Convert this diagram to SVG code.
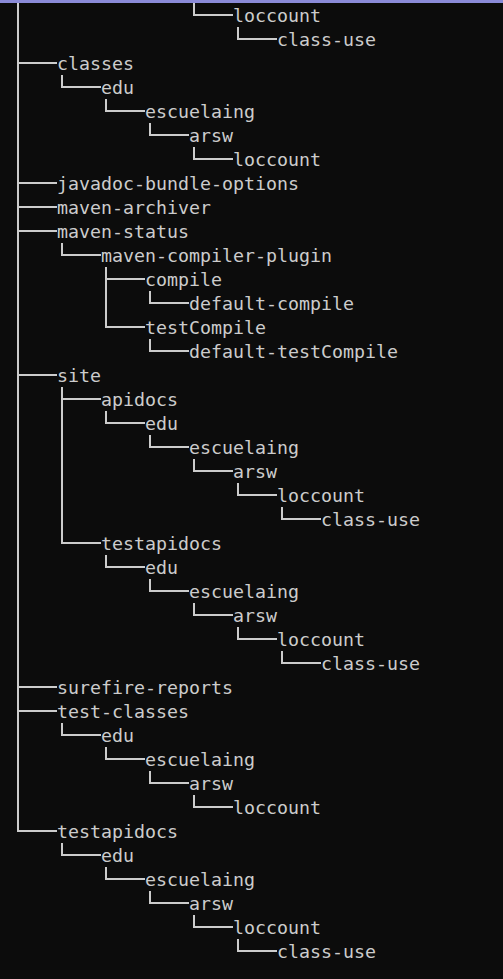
<svg xmlns="http://www.w3.org/2000/svg" width="503" height="979" viewBox="0 0 503 979">
<style>
text{font-family:"DejaVu Sans Mono","Liberation Mono",monospace;font-size:18.27px;fill:#cccccc}
.c{fill:none;stroke:#cccccc;stroke-width:2;stroke-linejoin:miter;stroke-linecap:butt}
</style>
<rect width="503" height="979" fill="#0c0c0c"/>
<rect width="503" height="3" fill="#8b8bd8"/>
<g id="connectors" class="c">
<path d="M18,3V831H57M18,63H57M18,183H57M18,207H57M18,231H57M18,375H57M18,687H57M18,711H57"/>
<path d="M194,3V15H233M238,27V39H277"/>
<path d="M62,75V87H101M106,99V111H145M150,123V135H189M194,147V159H233"/>
<path d="M62,243V255H101M106,267V327H145M106,279H145M150,291V303H189M150,339V351H189"/>
<path d="M62,387V543H101M62,399H101M106,411V423H145M150,435V447H189M194,459V471H233M238,483V495H277M282,507V519H321"/>
<path d="M106,555V567H145M150,579V591H189M194,603V615H233M238,627V639H277M282,651V663H321"/>
<path d="M62,723V735H101M106,747V759H145M150,771V783H189M194,795V807H233"/>
<path d="M62,843V855H101M106,867V879H145M150,891V903H189M194,915V927H233M238,939V951H277"/>
</g>
<g id="n0"><text x="233" y="21.5">loccount</text></g>
<g id="n1"><text x="277" y="45.5">class-use</text></g>
<g id="n2"><text x="57" y="69.5">classes</text></g>
<g id="n3"><text x="101" y="93.5">edu</text></g>
<g id="n4"><text x="145" y="117.5">escuelaing</text></g>
<g id="n5"><text x="189" y="141.5">arsw</text></g>
<g id="n6"><text x="233" y="165.5">loccount</text></g>
<g id="n7"><text x="57" y="189.5">javadoc-bundle-options</text></g>
<g id="n8"><text x="57" y="213.5">maven-archiver</text></g>
<g id="n9"><text x="57" y="237.5">maven-status</text></g>
<g id="n10"><text x="101" y="261.5">maven-compiler-plugin</text></g>
<g id="n11"><text x="145" y="285.5">compile</text></g>
<g id="n12"><text x="189" y="309.5">default-compile</text></g>
<g id="n13"><text x="145" y="333.5">testCompile</text></g>
<g id="n14"><text x="189" y="357.5">default-testCompile</text></g>
<g id="n15"><text x="57" y="381.5">site</text></g>
<g id="n16"><text x="101" y="405.5">apidocs</text></g>
<g id="n17"><text x="145" y="429.5">edu</text></g>
<g id="n18"><text x="189" y="453.5">escuelaing</text></g>
<g id="n19"><text x="233" y="477.5">arsw</text></g>
<g id="n20"><text x="277" y="501.5">loccount</text></g>
<g id="n21"><text x="321" y="525.5">class-use</text></g>
<g id="n22"><text x="101" y="549.5">testapidocs</text></g>
<g id="n23"><text x="145" y="573.5">edu</text></g>
<g id="n24"><text x="189" y="597.5">escuelaing</text></g>
<g id="n25"><text x="233" y="621.5">arsw</text></g>
<g id="n26"><text x="277" y="645.5">loccount</text></g>
<g id="n27"><text x="321" y="669.5">class-use</text></g>
<g id="n28"><text x="57" y="693.5">surefire-reports</text></g>
<g id="n29"><text x="57" y="717.5">test-classes</text></g>
<g id="n30"><text x="101" y="741.5">edu</text></g>
<g id="n31"><text x="145" y="765.5">escuelaing</text></g>
<g id="n32"><text x="189" y="789.5">arsw</text></g>
<g id="n33"><text x="233" y="813.5">loccount</text></g>
<g id="n34"><text x="57" y="837.5">testapidocs</text></g>
<g id="n35"><text x="101" y="861.5">edu</text></g>
<g id="n36"><text x="145" y="885.5">escuelaing</text></g>
<g id="n37"><text x="189" y="909.5">arsw</text></g>
<g id="n38"><text x="233" y="933.5">loccount</text></g>
<g id="n39"><text x="277" y="957.5">class-use</text></g>
</svg>
